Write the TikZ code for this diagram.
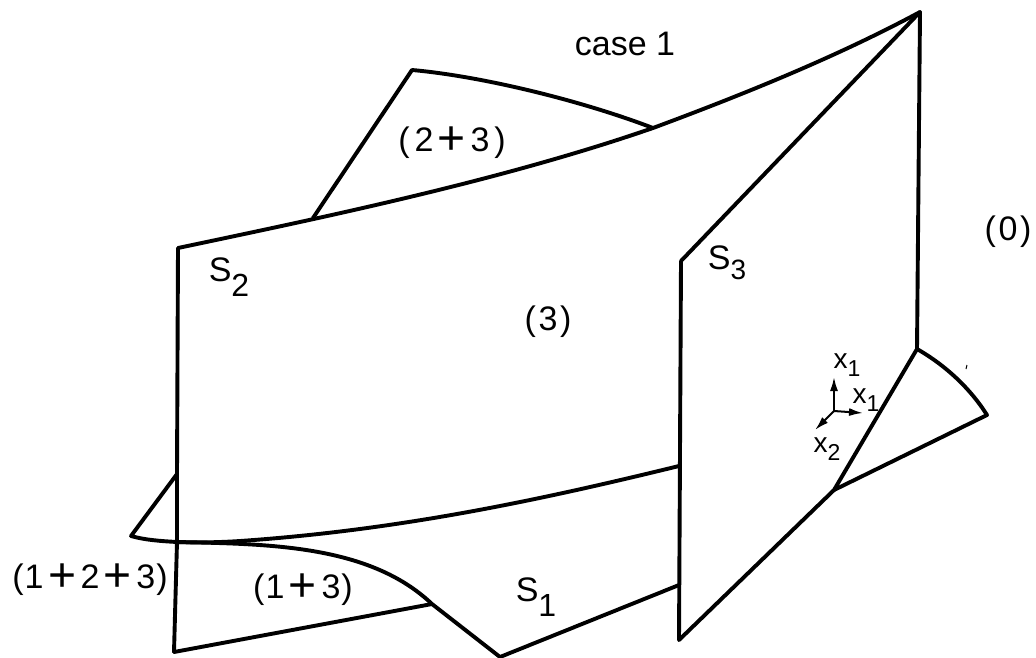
\documentclass[tikz,border=0pt]{standalone}
\usepackage{fontspec}
\setmainfont{Liberation Sans}
\newfontfamily\parenfont{Liberation Sans}[LetterSpace=8]
\newfontfamily\widefont{Liberation Sans}[LetterSpace=3]
\usetikzlibrary{arrows.meta}
\newcommand{\subtxt}[1]{\raisebox{-15pt}{\fontsize{32}{34}\selectfont #1}}
\newcommand{\subtxtb}[1]{\raisebox{-10pt}{\fontsize{28}{30}\selectfont #1}}
\newcommand{\axsub}[1]{\raisebox{-8pt}{\fontsize{23}{25}\selectfont #1}}
\newcommand{\pl}{\kern4.5pt\raisebox{-3pt}{\fontsize{48}{48}\selectfont +}\kern4.5pt}
\tikzset{
 edge/.style={line width=3.9pt,line join=round,line cap=round,black},
 lab/.style={inner sep=0pt,font=\fontsize{34}{36}\selectfont},
 parlab/.style={inner sep=0pt,font=\fontsize{34}{36}\selectfont\parenfont},
 sumlab/.style={inner sep=0pt,font=\fontsize{34}{36}\selectfont\widefont},
 sublab/.style={inner sep=0pt,font=\fontsize{28}{30}\selectfont},
 axis/.style={line width=2pt,-{Latex[length=14pt,width=8pt]}}
}
\begin{document}
\begin{tikzpicture}[x=1pt,y=-1pt]
\useasboundingbox (0,0) rectangle (1036,657);
\fill[white] (0,0) rectangle (1036,657);
\draw[edge] (178,248) .. controls (320,218) and (500,181) .. (653,128) .. controls (750,92) and (840,55) .. (920,12);
\draw[edge] (178,248) -- (177,474) -- (177,542) -- (174,652);
\draw[edge] (313,218) -- (412,70) .. controls (480,76) and (580,100) .. (653,128);
\draw[edge] (681,261) -- (920,12) -- (917,349);
\draw[edge] (681,261) -- (679,640) -- (834,490) -- (917,349);
\draw[edge] (917,349) .. controls (945,365) and (970,388) .. (987,415) -- (834,490);
\draw[edge] (177,474) -- (131,536) .. controls (145,540) and (160,541) .. (177,542);
\draw[edge] (177,542) .. controls (200,543) and (225,542) .. (240,541) .. controls (400,530) and (540,500) .. (679,466);
\draw[edge] (177,542) .. controls (270,544) and (370,545) .. (432,604) -- (500,657) -- (679,585);
\draw[edge] (174,652) -- (432,604);
\draw[line width=1pt] (966,369) -- (967,365);
\coordinate (o) at (834,411);
\coordinate (xa) at (834,377);
\coordinate (xb) at (863,413);
\coordinate (xc) at (815,430);
\draw[axis] (o) -- (xa);
\draw[axis] (o) -- (xb);
\draw[axis] (o) -- (xc);
\node[lab] (case) at (625,44) {case 1};
\node[sumlab] (l23) at (452,143) {(\kern5pt 2\pl 3\kern5pt)};
\node[lab] (s2) at (229,277) {S\subtxt{2}};
\node[parlab] (l3) at (548,322) {(3)};
\node[lab] (s3) at (727,263) {S\subtxtb{3}};
\node[parlab] (l0) at (1008,232) {(0)};
\node[sumlab] (l123) at (90,580) {(1\pl 2\pl 3)};
\node[sumlab] (l13) at (303,590) {(1\pl 3)};
\node[lab] (s1) at (536,597) {S\subtxt{1}};
\node[sublab] (x1a) at (847,365) {x\axsub{1}};
\node[sublab] (x1b) at (866,400) {x\axsub{1}};
\node[sublab] (x2) at (827,449) {x\axsub{2}};
\end{tikzpicture}
\end{document}
